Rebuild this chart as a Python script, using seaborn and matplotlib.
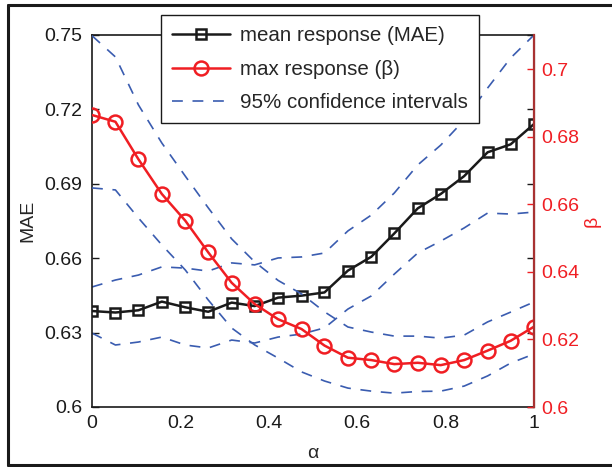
import matplotlib
matplotlib.use("Agg")
import matplotlib.pyplot as plt
from matplotlib.lines import Line2D
import seaborn as sns

# alpha grid (20 settings)
alpha = [0.0, 0.053, 0.105, 0.158, 0.211, 0.263, 0.316, 0.368, 0.421, 0.474,
         0.526, 0.579, 0.632, 0.684, 0.737, 0.789, 0.842, 0.895, 0.947, 1.0]

# mean response (MAE), left axis
mae = [0.6387, 0.6381, 0.6390, 0.6425, 0.6402, 0.6384, 0.6421, 0.6407, 0.6441, 0.6449,
       0.6462, 0.6550, 0.6606, 0.6700, 0.6801, 0.6859, 0.6931, 0.7027, 0.7059, 0.7141]
mae_lo = [0.6298, 0.6250, 0.6262, 0.6282, 0.6250, 0.6238, 0.6270, 0.6258, 0.6282, 0.6294,
          0.6319, 0.6395, 0.6448, 0.6536, 0.6621, 0.6669, 0.6722, 0.6782, 0.6778, 0.6786]
mae_hi = [0.6484, 0.6512, 0.6532, 0.6565, 0.6560, 0.6548, 0.6581, 0.6573, 0.6601, 0.6605,
          0.6621, 0.6710, 0.6774, 0.6863, 0.6976, 0.7056, 0.7157, 0.7286, 0.7407, 0.7500]

# max response (beta), right axis
beta = [0.6865, 0.6845, 0.6734, 0.6631, 0.6552, 0.6458, 0.6368, 0.6305, 0.6260, 0.6231,
        0.6182, 0.6146, 0.6139, 0.6127, 0.6131, 0.6124, 0.6139, 0.6167, 0.6196, 0.6238]
beta_lo = [0.6649, 0.6643, 0.6560, 0.6480, 0.6406, 0.6317, 0.6234, 0.6184, 0.6145, 0.6104,
           0.6077, 0.6056, 0.6047, 0.6041, 0.6046, 0.6047, 0.6062, 0.6092, 0.6130, 0.6157]
beta_hi = [0.7100, 0.7037, 0.6895, 0.6782, 0.6684, 0.6590, 0.6498, 0.6430, 0.6375, 0.6335,
           0.6282, 0.6237, 0.6222, 0.6210, 0.6210, 0.6204, 0.6213, 0.6252, 0.6281, 0.6311]

x_ticks = [0, 0.2, 0.4, 0.6, 0.8, 1]
x_labels = ["0", "0.2", "0.4", "0.6", "0.8", "1"]
mae_ticks = [0.6, 0.63, 0.66, 0.69, 0.72, 0.75]
mae_labels = ["0.6", "0.63", "0.66", "0.69", "0.72", "0.75"]
beta_ticks = [0.6, 0.62, 0.64, 0.66, 0.68, 0.7]
beta_labels = ["0.6", "0.62", "0.64", "0.66", "0.68", "0.7"]

sns.set_style("white")
plt.rcParams['font.family'] = ['Liberation Sans', 'DejaVu Sans']
plt.rcParams['font.size'] = 14

RED = '#f01e23'
BLUE = '#3a5cb0'
dash = (0, (6.5, 5.8))

fig = plt.figure(figsize=(6.12, 4.67), dpi=100)
ax1 = fig.add_axes([92 / 612, 1 - 407 / 467, 442 / 612, 372 / 467])
ax2 = ax1.twinx()

# confidence intervals
sns.lineplot(x=alpha, y=mae_lo, ax=ax1, color=BLUE, linewidth=1.2, linestyle=dash, errorbar=None)
sns.lineplot(x=alpha, y=mae_hi, ax=ax1, color=BLUE, linewidth=1.2, linestyle=dash, errorbar=None)
sns.lineplot(x=alpha, y=beta_lo, ax=ax2, color=BLUE, linewidth=1.2, linestyle=dash, errorbar=None)
sns.lineplot(x=alpha, y=beta_hi, ax=ax2, color=BLUE, linewidth=1.2, linestyle=dash, errorbar=None)

sns.lineplot(x=alpha, y=mae, ax=ax1, color='#1a1a1a', linewidth=1.8, marker='s',
             markersize=7.5, markerfacecolor='none', markeredgecolor='#1a1a1a',
             markeredgewidth=1.8, errorbar=None)
sns.lineplot(x=alpha, y=beta, ax=ax2, color=RED, linewidth=1.8, marker='o',
             markersize=10, markerfacecolor='none', markeredgecolor=RED,
             markeredgewidth=1.8, errorbar=None)

ax1.set_xlim(0, 1)
ax1.set_ylim(0.6, 0.75)
ax2.set_ylim(0.6, 0.7102)
ax1.set_xticks(x_ticks)
ax1.set_xticklabels(x_labels)
ax1.set_yticks(mae_ticks)
ax1.set_yticklabels(mae_labels)
ax2.set_yticks(beta_ticks)
ax2.set_yticklabels(beta_labels)

ax1.tick_params(axis='x', direction='in', length=5, width=1, pad=6, colors='#1a1a1a')
ax1.tick_params(axis='y', direction='in', length=5, width=1, pad=7, right=True,
                labelright=False, colors='#1a1a1a')
ax2.tick_params(axis='y', direction='in', length=5, width=1, pad=5, colors=RED)

for s in ['left', 'bottom', 'top']:
    ax1.spines[s].set_color('#1a1a1a')
    ax1.spines[s].set_linewidth(1.2)
    ax2.spines[s].set_visible(False)
ax2.spines['right'].set_color('#a83232')
ax2.spines['right'].set_linewidth(1.6)

ax1.set_xlabel("α", fontsize=14, labelpad=9)
ax1.set_ylabel("MAE", fontsize=14, labelpad=6)
ax2.set_ylabel("β", fontsize=14, color=RED, labelpad=3)

handles = [
    Line2D([], [], color='#1a1a1a', lw=1.8, marker='s', markersize=7.5,
           markerfacecolor='none', markeredgewidth=1.8),
    Line2D([], [], color=RED, lw=1.8, marker='o', markersize=10,
           markerfacecolor='none', markeredgewidth=1.8),
    Line2D([], [], color=BLUE, lw=1.2, linestyle=dash),
]
labels = ["mean response (MAE)", "max response (β)", "95% confidence intervals"]
leg = ax2.legend(handles, labels, loc='upper left',
                 bbox_to_anchor=(161 / 612, 1 - 15 / 467), bbox_transform=fig.transFigure,
                 frameon=True, fancybox=False, framealpha=1, edgecolor='#1a1a1a',
                 fontsize=14.8, handlelength=2.8, handletextpad=0.5, labelspacing=0.7,
                 borderpad=0.55, borderaxespad=0)
leg.get_frame().set_linewidth(1.0)

# outer frame
for xs, ys in [([8 / 612, 8 / 612], [2 / 467, 462 / 467]),
               ([8 / 612, 1.0], [462 / 467, 462 / 467]),
               ([8 / 612, 1.0], [2 / 467, 2 / 467])]:
    fig.add_artist(Line2D(xs, ys, color='#1a1a1a', lw=2.2))

fig.savefig("out.png", dpi=100)
